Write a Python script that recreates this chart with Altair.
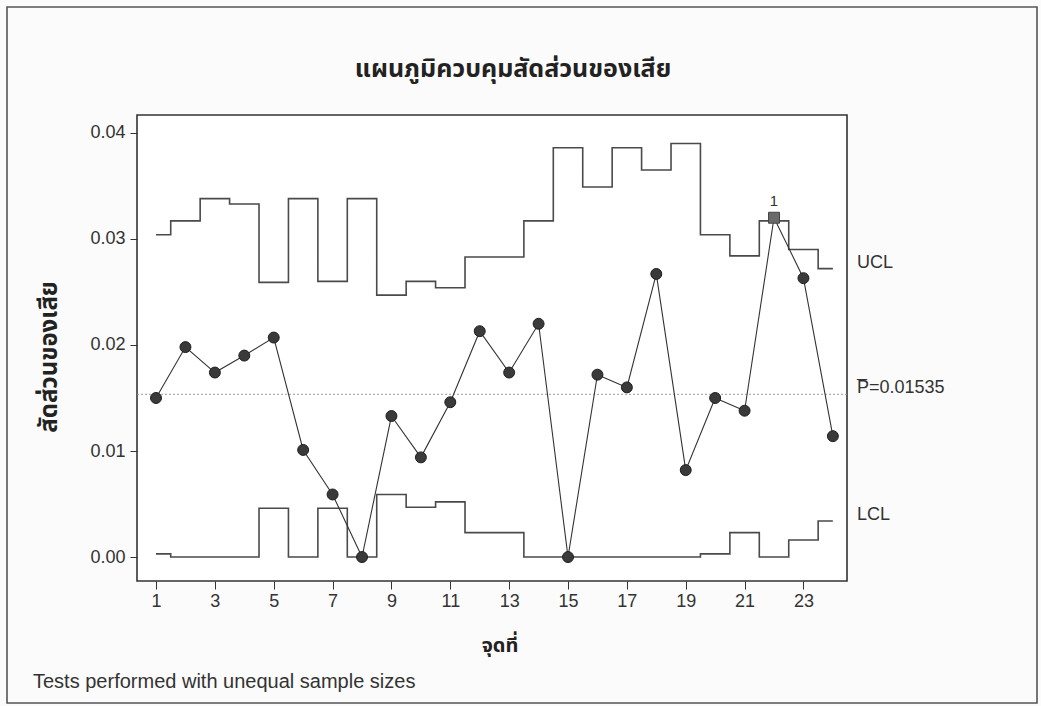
import altair as alt
import pandas as pd

# ---- data ----
sample = list(range(1, 25))
proportion = [0.0150, 0.0198, 0.0174, 0.0190, 0.0207, 0.0101, 0.0059, 0.0000,
              0.0133, 0.0094, 0.0146, 0.0213, 0.0174, 0.0220, 0.0000, 0.0172,
              0.0160, 0.0267, 0.0082, 0.0150, 0.0138, 0.0320, 0.0263, 0.0114]
ucl = [0.0304, 0.0317, 0.0338, 0.0333, 0.0259, 0.0338, 0.0260, 0.0338,
       0.0247, 0.0260, 0.0254, 0.0283, 0.0283, 0.0317, 0.0386, 0.0349,
       0.0386, 0.0365, 0.0390, 0.0304, 0.0284, 0.0317, 0.0290, 0.0272]
lcl = [0.0003, 0.0000, 0.0000, 0.0000, 0.0046, 0.0000, 0.0046, 0.0000,
       0.0059, 0.0047, 0.0052, 0.0023, 0.0023, 0.0000, 0.0000, 0.0000,
       0.0000, 0.0000, 0.0000, 0.0003, 0.0023, 0.0000, 0.0016, 0.0034]
p_bar = 0.01535
flagged = [22]          # test 1 failure
x_ticks = list(range(1, 24, 2))
y_ticks = [0.00, 0.01, 0.02, 0.03, 0.04]

title_text = "แผนภูมิควบคุมสัดส่วนของเสีย"
y_title = "สัดส่วนของเสีย"
x_title = "จุดที่"
footnote = "Tests performed with unequal sample sizes"

df = pd.DataFrame({"sample": sample, "p": proportion, "UCL": ucl, "LCL": lcl})
df["status"] = ["out" if s in flagged else "in" for s in sample]

W, H = 710, 466
THAI = "Noto Sans Thai, Noto Sans Thai UI, Loma, Garuda, Tlwg Typo, Noto Sans, sans-serif"
LAT = "Liberation Sans, Arial, sans-serif"

xs = alt.Scale(domain=[0.354, 24.48], nice=False, zero=False)
ys = alt.Scale(domain=[-0.00226, 0.04169], nice=False, zero=False)

X = alt.X("sample:Q", scale=xs,
          axis=alt.Axis(values=x_ticks, title=None, grid=False, domain=False,
                        tickSize=8, tickColor="#333", labelPadding=3,
                        labelFontSize=18, labelFont=LAT, labelColor="#333"))
Yax = alt.Axis(values=y_ticks, format=".2f", title=None, grid=False, domain=False,
               tickSize=7, tickColor="#333", labelPadding=5,
               labelFontSize=18, labelFont=LAT, labelColor="#333")

base = alt.Chart(df)

center = alt.Chart(pd.DataFrame({"v": [p_bar]})).mark_rule(
    color="#9a9a9a", strokeWidth=1, strokeDash=[2, 2]
).encode(y=alt.Y("v:Q", scale=ys, axis=Yax))

ucl_line = base.mark_line(interpolate="step", color="#4a4a4a", strokeWidth=1.6).encode(
    x=X, y=alt.Y("UCL:Q", scale=ys, axis=Yax))
lcl_line = base.mark_line(interpolate="step", color="#4a4a4a", strokeWidth=1.6).encode(
    x=X, y=alt.Y("LCL:Q", scale=ys))

p_line = base.mark_line(color="#333", strokeWidth=1.1).encode(
    x=X, y=alt.Y("p:Q", scale=ys))

dots = base.transform_filter(alt.datum.status == "in").mark_point(
    shape="circle", filled=True, size=120, color="#3a3a3a", stroke="#1e1e1e",
    strokeWidth=1, opacity=1
).encode(x=X, y=alt.Y("p:Q", scale=ys))

squares = base.transform_filter(alt.datum.status == "out").mark_point(
    shape="square", filled=True, size=120, color="#6a6a6a", stroke="#444",
    strokeWidth=1, opacity=1
).encode(x=X, y=alt.Y("p:Q", scale=ys))

flag_lbl = base.transform_filter(alt.datum.status == "out").mark_text(
    text="1", fontSize=15, font=LAT, color="#333", dy=-17, baseline="middle"
).encode(x=X, y=alt.Y("p:Q", scale=ys))

last = df[df["sample"] == sample[-1]]
lbl_df = pd.DataFrame({
    "lab": ["UCL", "P=0.01535", "LCL", "\u00af"],
    "v": [float(last["UCL"].iloc[0]), p_bar, float(last["LCL"].iloc[0]), p_bar],
})
side_lbls = alt.Chart(lbl_df).mark_text(
    align="left", baseline="middle", fontSize=18, font=LAT, color="#333", dy=-6
).encode(x=alt.value(W + 10), y=alt.Y("v:Q", scale=ys), text="lab:N")

one = pd.DataFrame({"a": [0]})
title_mark = alt.Chart(one).mark_text(
    text=title_text, font=THAI, fontSize=25, fontWeight="bold", color="#222",
    align="center", baseline="alphabetic"
).encode(x=alt.value(376), y=alt.value(-38))
ytitle = alt.Chart(one).mark_text(
    text=y_title, font=THAI, fontSize=24, fontWeight="bold", color="#222",
    align="center", baseline="middle", angle=270
).encode(x=alt.value(-87), y=alt.value(242))
xtitle = alt.Chart(one).mark_text(
    text=x_title, font=THAI, fontSize=20, fontWeight="bold", color="#222",
    align="center", baseline="middle"
).encode(x=alt.value(363), y=alt.value(531))
foot = alt.Chart(one).mark_text(
    text=footnote, font=LAT, fontSize=20, color="#333",
    align="left", baseline="middle"
).encode(x=alt.value(-104), y=alt.value(567))
border = alt.Chart(one).mark_rect(
    filled=False, stroke="#555", strokeWidth=1.6
).encode(x=alt.value(-130), x2=alt.value(900), y=alt.value(-108), y2=alt.value(588))

chart = alt.layer(
    border, center, ucl_line, lcl_line, p_line, dots, squares, flag_lbl,
    side_lbls, title_mark, ytitle, xtitle, foot
).properties(
    width=W, height=H,
    padding={"left": 137, "top": 115, "right": 194, "bottom": 125},
    autosize=alt.AutoSizeParams(type="none"),
    background="#fbfbfb",
).configure_view(
    stroke="#333", strokeWidth=1.6, fill="white"
)

chart.save("out.html", embed_options={"renderer": "svg", "actions": False})
